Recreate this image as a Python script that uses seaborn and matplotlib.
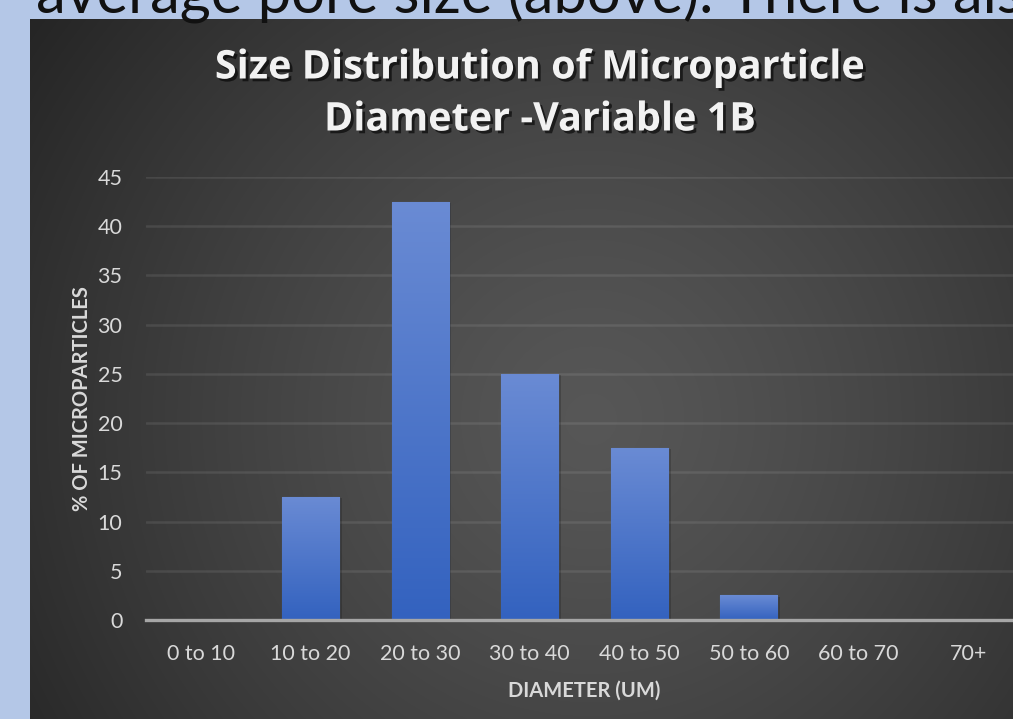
import numpy as np
import pandas as pd
import matplotlib
matplotlib.use("Agg")
import matplotlib.pyplot as plt
import matplotlib.patheffects as pe
import seaborn as sns

categories = ["0 to 10", "10 to 20", "20 to 30", "30 to 40", "40 to 50", "50 to 60", "60 to 70", "70+"]
percent = [0, 12.5, 42.5, 25, 17.5, 2.5, 0, 0]
yticks = [0, 5, 10, 15, 20, 25, 30, 35, 40, 45]

title_lines = ["Size Distribution of Microparticle", "Diameter -Variable 1B"]
xlabel = "DIAMETER (UM)"
ylabel = "% OF MICROPARTICLES"
slide_text = "average pore size (above). There is als"

df = pd.DataFrame({"cat": categories, "pct": percent})

sns.set_theme(style="white")
plt.rcParams["font.family"] = ["Lato", "DejaVu Sans"]

W, H = 1013, 719
fig = plt.figure(figsize=(W / 100, H / 100), dpi=100)
fig.patch.set_facecolor("#b4c7e7")

# chart background with radial gradient
bx0, by0 = 30, 19
bg = fig.add_axes([bx0 / W, 0, 1 - bx0 / W, (H - by0) / H])
bg.set_axis_off()
gw, gh = W - bx0, H - by0
yy, xx = np.mgrid[0:gh, 0:gw]
cx, cy = 560, 400
r = np.sqrt((xx - cx) ** 2 + (yy - cy) ** 2) / 700.0
v = np.clip(0.34 - 0.20 * r ** 1.3, 0.12, 1)
img = np.dstack([v, v, v])
bg.imshow(img, aspect="auto", extent=(0, 1, 0, 1), origin="upper")
bg.set_xlim(0, 1)
bg.set_ylim(0, 1)

# main axes
left, right = 146, 1023
y0, y45 = 620, 177
ax = fig.add_axes([left / W, (H - y0) / H, (right - left) / W, (y0 - y45) / H])
ax.patch.set_alpha(0)
sns.barplot(data=df, x="cat", y="pct", order=categories, color="#4f78cc",
            width=0.52, ax=ax, zorder=3, saturation=1)
ax.set_xlim(-0.5, len(categories) - 0.5)
ax.set_ylim(0, 45)
ax.set_yticks(yticks)
ax.yaxis.grid(True, color="white", alpha=0.09, lw=1.8, zorder=0)
ax.set_axisbelow(True)
for s in ["top", "right", "left"]:
    ax.spines[s].set_visible(False)
ax.spines["bottom"].set_color("#a6a6a6")
ax.spines["bottom"].set_linewidth(2.4)
ax.spines["bottom"].set_zorder(5)
ax.tick_params(axis="both", length=0, colors="#d9d9d9", labelsize=15.5)
ax.tick_params(axis="x", pad=17)
ax.tick_params(axis="y", pad=17)
ax.set_xlabel(xlabel, color="#d9d9d9", fontsize=14.5, fontweight="bold", labelpad=12)
ax.set_ylabel(ylabel, color="#d9d9d9", fontsize=14.5, fontweight="bold", labelpad=4)

# gradient fill for bars
grad = np.linspace(0, 1, 256).reshape(-1, 1)
top_c = np.array([0x6a, 0x8b, 0xd4]) / 255
bot_c = np.array([0x33, 0x62, 0xbf]) / 255
gimg = top_c[None, None, :] * (1 - grad[:, :, None]) + bot_c[None, None, :] * grad[:, :, None]
for p in ax.patches:
    h = p.get_height()
    if h <= 0:
        continue
    p.set_path_effects([pe.SimplePatchShadow(offset=(2, -1), alpha=0.18, shadow_rgbFace="black"), pe.Normal()])
    x0p = p.get_x()
    im = ax.imshow(gimg, extent=(x0p, x0p + p.get_width(), 0, h), aspect="auto",
                   origin="upper", zorder=4)
    im.set_clip_path(p)
    p.set_edgecolor("#5c82cf")
    p.set_linewidth(0.8)
ax.set_xlim(-0.5, len(categories) - 0.5)
ax.set_ylim(0, 45)

# title
shadow = [pe.withSimplePatchShadow(offset=(2, -2), alpha=0.6, shadow_rgbFace="black")]
for line, yc in zip(title_lines, [68, 120]):
    fig.text(540 / W, 1 - yc / H, line, ha="center", va="center", color="#f2f2f2",
             fontsize=28.5, fontweight="bold", family=["Open Sans", "DejaVu Sans"],
             path_effects=shadow)

# slide text cut at top
fig.text(36 / W, 1 - 13 / H, slide_text, ha="left", va="baseline", color="#111111",
         fontsize=43)

fig.savefig("out.png", dpi=100, facecolor=fig.get_facecolor())
